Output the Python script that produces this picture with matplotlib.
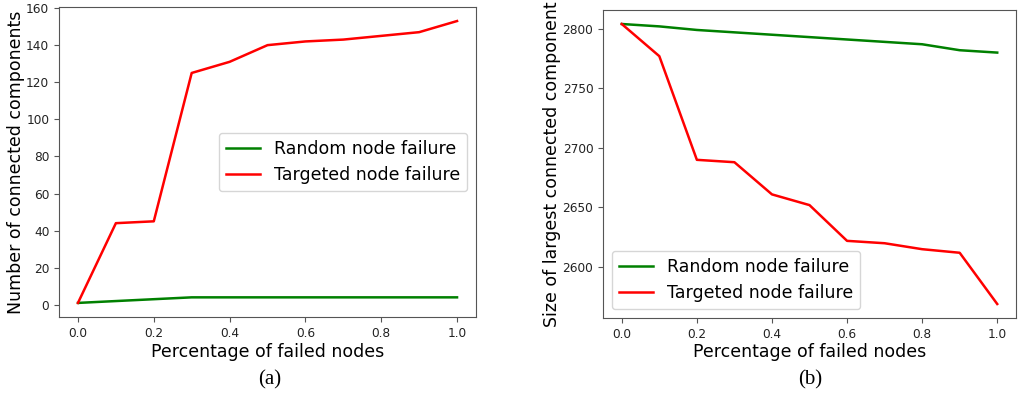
import matplotlib
matplotlib.use("Agg")
import matplotlib.pyplot as plt

x = [0.0, 0.1, 0.2, 0.3, 0.4, 0.5, 0.6, 0.7, 0.8, 0.9, 1.0]
cc_random = [1, 2, 3, 4, 4, 4, 4, 4, 4, 4, 4]
cc_targeted = [1, 44, 45, 125, 131, 140, 142, 143, 145, 147, 153]
lcc_random = [2804, 2802, 2799, 2797, 2795, 2793, 2791, 2789, 2787, 2782, 2780]
lcc_targeted = [2804, 2777, 2690, 2688, 2661, 2652, 2622, 2620, 2615, 2612, 2569]
labels = ["Random node failure", "Targeted node failure"]
xlabel = "Percentage of failed nodes"
ylabels = ["Number of connected components", "Size of largest connected component"]
captions = ["(a)", "(b)"]

fig = plt.figure(figsize=(10.21, 3.97), dpi=100)
ax1 = fig.add_axes([0.0578, 0.2015, 0.4084, 0.781])
ax2 = fig.add_axes([0.5906, 0.199, 0.4045, 0.7758])

lw = 1.8
fs = 12.5
tfs = 8.7
spine_col = "#555555"

ax1.plot(x, cc_random, color="green", lw=lw, label=labels[0])
ax1.plot(x, cc_targeted, color="red", lw=lw, label=labels[1])
ax1.legend(loc="center right", fontsize=fs)
ax2.plot(x, lcc_random, color="green", lw=lw, label=labels[0])
ax2.plot(x, lcc_targeted, color="red", lw=lw, label=labels[1])
ax2.legend(loc="lower left", fontsize=fs)

for ax, yl in zip([ax1, ax2], ylabels):
    ax.set_xlabel(xlabel, fontsize=fs, labelpad=2)
    ax.set_ylabel(yl, fontsize=fs, labelpad=1)
    ax.tick_params(labelsize=tfs, color=spine_col, labelcolor="#222222")
    for s in ax.spines.values():
        s.set_color(spine_col)
    ax.set_xticks([0.0, 0.2, 0.4, 0.6, 0.8, 1.0])

ax1.set_yticks([0, 20, 40, 60, 80, 100, 120, 140, 160])
ax2.set_yticks([2600, 2650, 2700, 2750, 2800])

fig.text(0.2645, 0.043, captions[0], ha="center", va="center", fontsize=15, family="Liberation Serif")
fig.text(0.7935, 0.043, captions[1], ha="center", va="center", fontsize=15, family="Liberation Serif")

fig.savefig("out.png", dpi=100)
